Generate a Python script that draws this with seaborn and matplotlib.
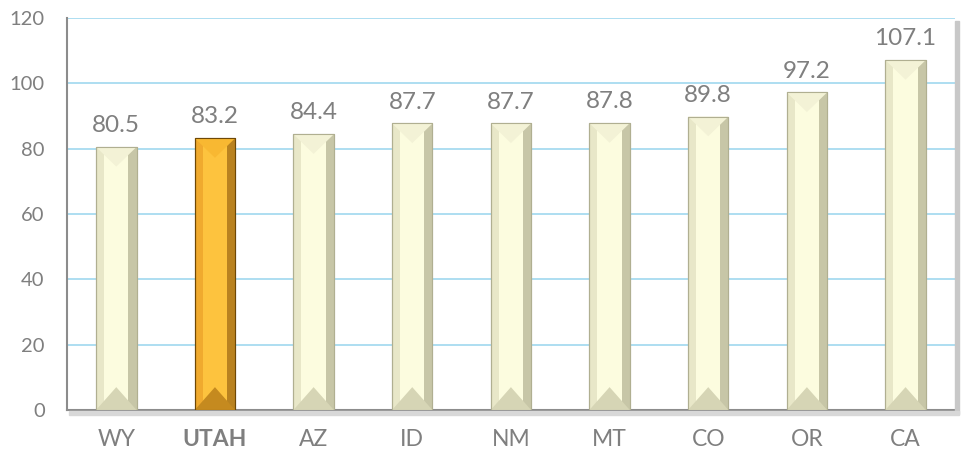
import numpy as np
import pandas as pd
import seaborn as sns
import matplotlib
matplotlib.use("Agg")
import matplotlib.pyplot as plt
from matplotlib.patches import Polygon, Rectangle

sns.set_style("white")
plt.rcParams['font.family'] = ['Lato', 'DejaVu Sans']

# Data
states = ["WY", "UTAH", "AZ", "ID", "NM", "MT", "CO", "OR", "CA"]
values = [80.5, 83.2, 84.4, 87.7, 87.7, 87.8, 89.8, 97.2, 107.1]
y_ticks = [0, 20, 40, 60, 80, 100, 120]

df = pd.DataFrame({"state": states, "value": values})
palette = {s: ("#f6b02e" if s == "UTAH" else "#f4f3d3") for s in states}

fig = plt.figure(figsize=(9.62, 4.58), dpi=100)
ax = fig.add_axes([0.0696, 0.1048, 0.923, 0.856])

sns.barplot(data=df, x="state", y="value", hue="state", palette=palette,
            width=0.41, saturation=1, legend=False, ax=ax, zorder=3)

# bevelled look built from the bar patches
for p, s in zip(ax.patches, states):
    x0, w, h = p.get_x(), p.get_width(), p.get_height()
    x1 = x0 + w
    xm = x0 + w / 2
    if s == "UTAH":
        light, mid, dark, edge, top, bot = "#fdc33e", "#f0aa2e", "#b98220", "#6e4806", "#f8b832", "#c58a1f"
    else:
        light, mid, dark, edge, top, bot = "#fcfcdf", "#e8e7c8", "#c7c6a7", "#b0af91", "#f3f2d6", "#d6d5b5"
    p.set_facecolor(mid)
    p.set_edgecolor(edge)
    p.set_linewidth(0.8)
    b = w * 0.2
    ax.add_patch(Rectangle((x0 + b, 0), w - 2 * b, h, color=light, zorder=3.1, lw=0))
    ax.add_patch(Rectangle((x1 - b, 0), b, h, color=dark, zorder=3.1, lw=0))
    # top chevron and bottom triangle
    ax.add_patch(Polygon([(x0, h), (x1, h), (xm, h - 6)], closed=True,
                         color=top, zorder=3.2, lw=0))
    ax.add_patch(Polygon([(x0, 0), (x1, 0), (xm, 7)], closed=True,
                         color=bot, zorder=3.2, lw=0))
    ax.add_patch(Rectangle((x0, 0), w, h, fill=False, ec=edge, lw=0.8, zorder=3.3))
    ax.text(xm, h + 3.3, f"{h:.1f}", ha="center", va="bottom",
            fontsize=17.5, color="#7f7f7f", zorder=4)

ax.set_ylim(0, 120)
ax.set_xlim(-0.5, len(states) - 0.5)
ax.set_yticks(y_ticks)
ax.yaxis.grid(True, color="#9fd8ef", lw=1.2, zorder=0)
ax.set_axisbelow(True)
ax.set_xlabel("")
ax.set_ylabel("")

ax.set_xticks(np.arange(len(states)))
ax.set_xticklabels(states)
for lbl in ax.get_xticklabels():
    lbl.set_color("#7f7f7f")
    lbl.set_fontsize(16.5)
    if lbl.get_text() == "UTAH":
        lbl.set_fontweight("bold")
ax.tick_params(axis="x", length=0, pad=14)
ax.set_xticks(np.arange(len(states) + 1) - 0.5, minor=True)
ax.tick_params(axis="x", which="minor", length=6, width=1.2, color="#8c8c8c", direction="out")
ax.tick_params(axis="y", length=5, width=1.2, color="#8c8c8c", labelsize=14.5,
               labelcolor="#7f7f7f", pad=11)

for side in ["top", "right"]:
    ax.spines[side].set_visible(False)
for side in ["left", "bottom"]:
    ax.spines[side].set_color("#8c8c8c")
    ax.spines[side].set_linewidth(1.5)

# soft shadow along right and bottom of the plot area
fig.patches.append(Rectangle((0.9927, 0.095), 0.004, 0.86, transform=fig.transFigure,
                             color="#c8c8c8", zorder=0))
fig.patches.append(Rectangle((0.072, 0.094), 0.925, 0.008, transform=fig.transFigure,
                             color="#d8d8d8", zorder=0))

fig.savefig("out.png", dpi=100)
